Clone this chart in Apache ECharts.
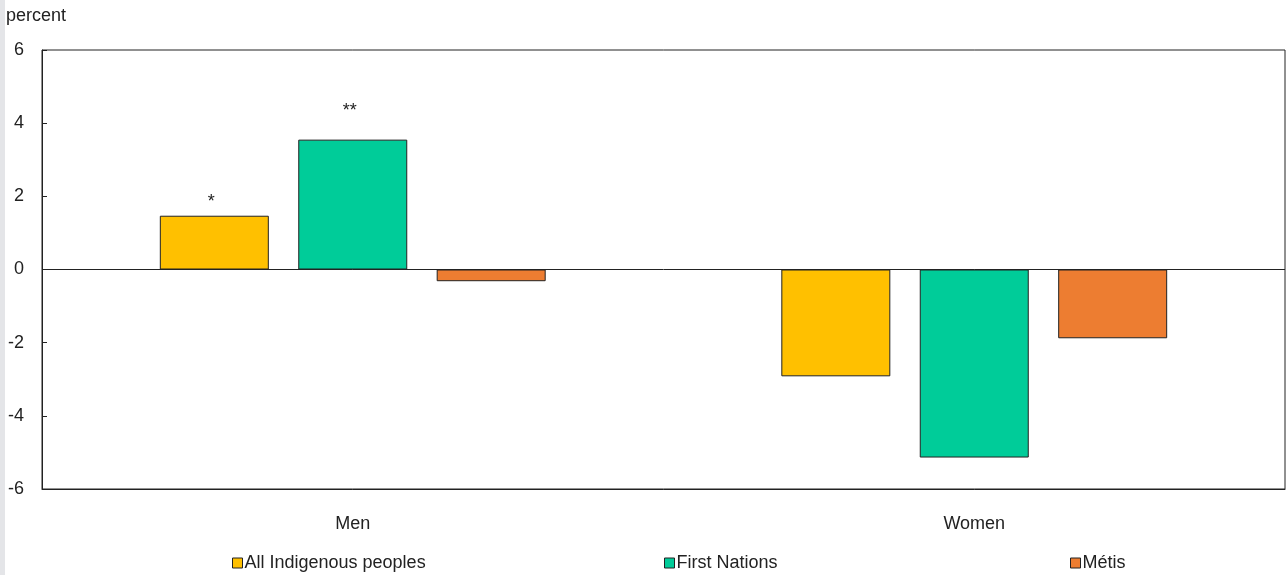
<!DOCTYPE html>
<html>
<head>
<meta charset="utf-8">
<script src="https://cdn.jsdelivr.net/npm/echarts@6/dist/echarts.min.js"></script>
<style>
  html, body { margin: 0; padding: 0; background: #fff; }
  #chart { width: 1286px; height: 575px; }
</style>
</head>
<body>
<div id="chart"></div>
<script>
// Categories and series values (percent)
const categories = ['Men', 'Women'];
const seriesNames = ['All Indigenous peoples', 'First Nations', 'Métis'];
const allIndigenous = [1.47, -2.92];
const firstNations = [3.55, -5.14];
const metis = [-0.32, -1.88];
// Significance markers shown above bars
const allIndigenousMarks = ['*', ''];
const firstNationsMarks = ['**', ''];
const metisMarks = ['', ''];
const yTicks = [-6, -4, -2, 0, 2, 4, 6];

const FONT = '"Liberation Sans", Arial, sans-serif';
const FS = 18;
const TEXT = '#222';
const colors = ['#FFC000', '#00CC99', '#ED7D31'];

function withMarks(values, marks, distances) {
  return values.map((v, i) => {
    if (!marks[i]) return v;
    return {
      value: v,
      label: {
        show: true,
        formatter: marks[i],
        position: 'top',
        distance: distances[i],
        offset: [-3, 0],
        color: TEXT,
        fontFamily: FONT,
        fontSize: FS
      }
    };
  });
}

const valueSets = [
  withMarks(allIndigenous, allIndigenousMarks, [5, 0]),
  withMarks(firstNations, firstNationsMarks, [20, 0]),
  withMarks(metis, metisMarks, [0, 0])
];

const chart = echarts.init(document.getElementById('chart'), null, { renderer: 'canvas' });

const legendLefts = [232, 664, 1070];

const option = {
  animation: false,
  textStyle: { fontFamily: FONT, color: TEXT },
  title: {
    text: 'percent',
    left: 6,
    top: 7,
    padding: 0,
    textStyle: { fontFamily: FONT, fontSize: FS, fontWeight: 'normal', color: TEXT }
  },
  graphic: [{
    type: 'rect',
    shape: { x: 0, y: 0, width: 5, height: 575 },
    style: { fill: '#e4e5e8' },
    silent: true
  }],
  legend: seriesNames.map((name, i) => ({
    data: [name],
    left: legendLefts[i],
    top: 554,
    icon: 'rect',
    itemWidth: 10,
    itemHeight: 10,
    itemGap: 0,
    padding: 0,
    textStyle: { fontFamily: FONT, fontSize: FS, color: TEXT, padding: [0, 0, 0, -3] },
    itemStyle: { borderColor: '#222', borderWidth: 1 }
  })),
  grid: {
    left: 42,
    right: 1,
    top: 50,
    bottom: 86,
    show: true,
    borderColor: '#222',
    borderWidth: 1,
    containLabel: false
  },
  xAxis: {
    type: 'category',
    data: categories,
    position: 'bottom',
    axisLine: { onZero: false, lineStyle: { color: '#222', width: 1 } },
    axisTick: { show: false },
    axisLabel: { fontFamily: FONT, fontSize: FS, color: TEXT, margin: 26 },
    splitLine: { show: false }
  },
  yAxis: {
    type: 'value',
    min: -6,
    max: 6,
    interval: 2,
    axisLine: { show: true, lineStyle: { color: '#222', width: 1 } },
    axisTick: { show: true, inside: true, length: 5, lineStyle: { color: '#222' } },
    axisLabel: {
      fontFamily: FONT, fontSize: FS, color: TEXT, margin: 18,
      padding: [4, 0, 0, 0],
      formatter: v => (yTicks.includes(v) ? String(v) : '')
    },
    splitLine: { show: false }
  },
  series: seriesNames.map((name, i) => ({
    name: name,
    type: 'bar',
    data: valueSets[i],
    barWidth: 109,
    barGap: '27%',
    itemStyle: { color: colors[i], borderColor: '#222', borderWidth: 1 },
    markLine: i === 0 ? {
      silent: true,
      symbol: 'none',
      label: { show: false },
      lineStyle: { color: '#222', width: 1, type: 'solid' },
      data: [{ yAxis: 0 }]
    } : undefined
  }))
};

chart.setOption(option);
</script>
</body>
</html>
